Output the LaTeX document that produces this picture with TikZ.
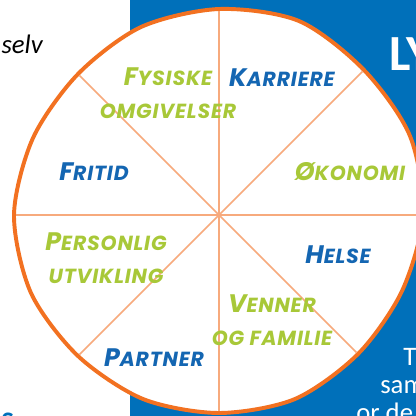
\documentclass[tikz,border=0pt]{standalone}
\usepackage{fontspec}
\setmainfont{Carlito}
\newfontfamily\handfont[LetterSpace=4]{Poppins}
\definecolor{lifeblue}{RGB}{0,112,186}
\definecolor{rimorange}{RGB}{242,113,33}
\definecolor{spokeorange}{RGB}{247,170,125}
\definecolor{labelblue}{RGB}{20,102,178}
\definecolor{labelgreen}{RGB}{168,200,56}
\newcommand{\wheelsc}[2]{{\fontsize{18}{18}\selectfont #1}{\fontsize{14.5}{14.5}\selectfont #2}}

\begin{document}
\begin{tikzpicture}[x=0.025cm, y=-0.025cm]
      \tikzstyle{area} = [font=\handfont\bfseries\itshape\fontsize{14.5}{23.5}\selectfont, align=center, inner sep=0pt]
      \tikzstyle{bluearea} = [area, text=labelblue]
      \tikzstyle{greenarea} = [area, text=labelgreen]
      \tikzstyle{spoke} = [draw=spokeorange, line width=1.1pt, shorten >=1.4pt]
      \tikzstyle{rim} = [draw=rimorange, line width=2.8pt, fill=white]
      \tikzstyle{whitetext} = [text=white, inner sep=0pt, anchor=base west, font=\fontsize{19}{19}\selectfont]

      \useasboundingbox (0,0) rectangle (416,416);
      \clip (0,0) rectangle (416,416);
      \fill[lifeblue] (130,0) rectangle (420,420);

      \node (selv) [anchor=base east, inner sep=0pt, font=\itshape\fontsize{19}{19}\selectfont] at (43,53) {selv};
      \node (ly) [whitetext, font=\bfseries\fontsize{36}{36}\selectfont] at (389,70) {LY};
      \node (t) [whitetext] at (403,365) {T};
      \node (sam) [whitetext] at (380,393) {sam};
      \node (orde) [whitetext] at (356,421) {or de};
      \node (mark) [anchor=north west, inner sep=0pt, text=lifeblue, font=\bfseries\fontsize{19}{19}\selectfont] at (1,413) {S};

      \coordinate (c) at (219,215);
      \coordinate (n) at (219,9);
      \coordinate (ne) at (364,70);
      \coordinate (e) at (423,215);
      \coordinate (se) at (358,354);
      \coordinate (s) at (219,413);
      \coordinate (sw) at (78,356);
      \coordinate (w) at (14,215);
      \coordinate (nw) at (78,74);

      \path[rim] plot[smooth cycle] coordinates {(e) (410,136) (ne) (299,21) (n) (141,27) (nw) (33,138) (w) (31,293) (sw) (143,399) (s) (295,399) (se) (402,291)};
      \foreach \p in {n,ne,e,se,s,sw,w,nw}
        \draw [spoke] (c) -- (\p);

      \node (fysiske) [greenarea] at (168,93) {\wheelsc{F}{YSISKE}\\\wheelsc{}{OMGIVELSER}};
      \node (karriere) [bluearea] at (282,78) {\wheelsc{K}{ARRIERE}};
      \node (okonomi) [greenarea] at (350,172) {\wheelsc{Ø}{KONOMI}};
      \node (fritid) [bluearea] at (94,172) {\wheelsc{F}{RITID}};
      \node (personlig) [greenarea] at (106,258) {\wheelsc{P}{ERSONLIG}\\\wheelsc{}{UTVIKLING}};
      \node (helse) [bluearea] at (338,255) {\wheelsc{H}{ELSE}};
      \node (venner) [greenarea] at (272,320) {\wheelsc{V}{ENNER}\\\wheelsc{}{OG FAMILIE}};
      \node (partner) [bluearea] at (154,358) {\wheelsc{P}{ARTNER}};

\end{tikzpicture}
\end{document}
